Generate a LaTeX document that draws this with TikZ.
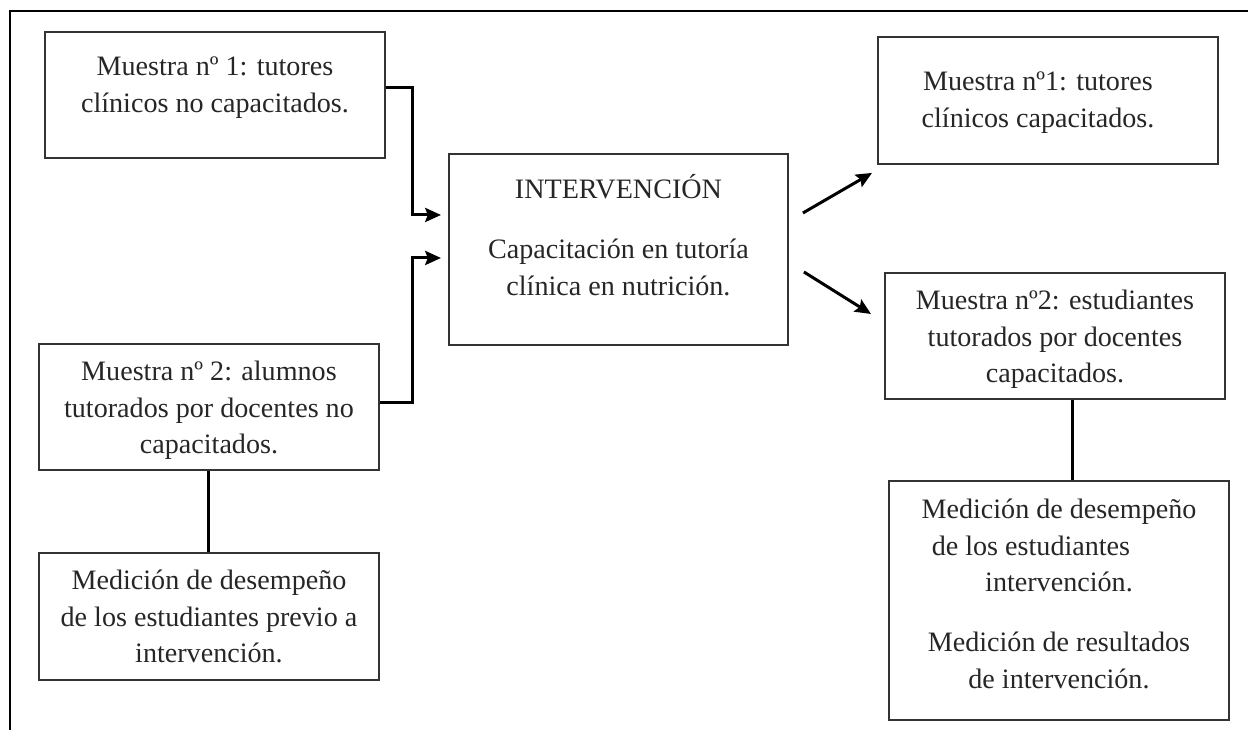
\documentclass[tikz,border=0pt]{standalone}
\usepackage{fontspec}
\setmainfont{Liberation Serif}
\usetikzlibrary{positioning,arrows.meta}

\begin{document}
\begin{tikzpicture}[
	box/.style={draw=black!80, line width=1.1pt, minimum width=6.8cm, inner sep=0pt, anchor=north west},
	txt/.style={align=center, inner sep=0pt, anchor=north, text=black!85, font=\fontsize{16pt}{21pt}\selectfont},
	conn/.style={line width=1.7pt, -{Stealth[length=9pt,width=8pt,inset=1.5pt]}},
	link/.style={line width=1.7pt}
	]
		%%%%% FRAME %%%%%
		\useasboundingbox (0, 0) rectangle (24.96, -14.6);
		\draw[line width=1.2pt] (24.96, -0.22) -- (0.2, -0.22) -- (0.2, -14.6);
		
		%%%%% BOXES %%%%%
		\node[box, minimum height=2.52cm] (A) at (0.88, -0.62) {};
		\node[box, minimum height=3.82cm, minimum width=6.78cm] (int) at (8.96, -3.06) {};
		\node[box, minimum height=2.52cm] (B) at (0.76, -6.86) {};
		\node[box, minimum height=2.54cm] (C) at (0.76, -11.04) {};
		\node[box, minimum height=2.54cm] (D) at (17.54, -0.72) {};
		\node[box, minimum height=2.52cm] (E) at (17.68, -5.44) {};
		\node[box, minimum height=4.78cm] (F) at (17.76, -9.6) {};
		
		%%%%% TEXTS %%%%%
		\node[txt, below=0.36cm of A.north] (A-txt) {\strut Muestra nº 1: tutores\\clínicos no capacitados.};
		\node[txt, below=0.38cm of int.north] (int-txt) {\strut INTERVENCIÓN\\[13.6pt]Capacitación en tutoría\\clínica en nutrición.};
		\node[txt, below=0.22cm of B.north] (B-txt) {\strut Muestra nº 2: alumnos\\tutorados por docentes no\\capacitados.};
		\node[txt, below=0.22cm of C.north] (C-txt) {\strut Medición de desempeño\\de los estudiantes previo a\\intervención.};
		\node[txt, below=0.56cm of D.north, xshift=-0.2cm] (D-txt) {\strut Muestra nº1: tutores\\clínicos capacitados.};
		\node[txt, below=0.22cm of E.north] (E-txt) {\strut Muestra nº2: estudiantes\\tutorados por docentes\\capacitados.};
		\node[txt, below=0.24cm of F.north] (F-txt) {\strut Medición de desempeño\\de los estudiantes\hspace*{1.12cm}\null\\intervención.\\[13pt]Medición de resultados\\de intervención.};
		
		%%%%% CONNECTORS %%%%%
		\draw[conn] ([yshift=0.14cm]A.east) -- ++(0.54, 0) |- ([xshift=-0.14cm, yshift=0.69cm]int.west);
		\draw[conn] ([yshift=0.08cm]B.east) -- ++(0.66, 0) |- ([xshift=-0.14cm, yshift=-0.17cm]int.west);
		\draw[link] (B) -- (C);
		\draw[conn] ([xshift=0.28cm, yshift=0.73cm]int.east) -- ([xshift=-0.1cm, yshift=-0.16cm]D.south west);
		\draw[conn] ([xshift=0.3cm, yshift=-0.45cm]int.east) -- ([xshift=-0.26cm, yshift=0.44cm]E.west);
		\draw[link] ([xshift=0.36cm]E.south) -- ([xshift=0.28cm]F.north);
	\end{tikzpicture}
\end{document}
